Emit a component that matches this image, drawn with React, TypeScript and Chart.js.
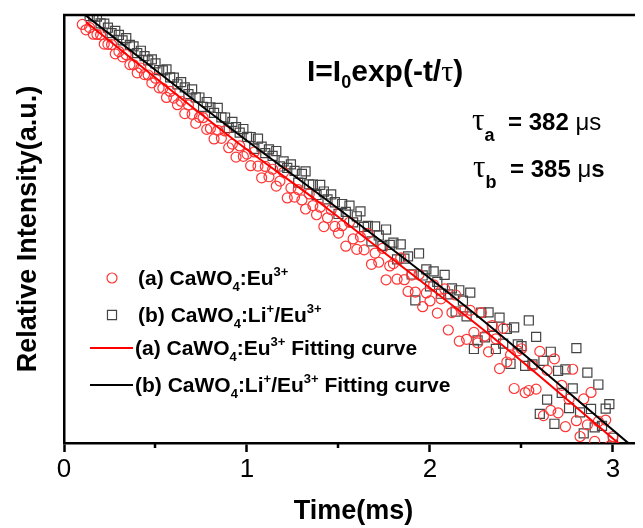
import { useEffect, useRef } from "react";
import { Chart, registerables } from "chart.js";

Chart.register(...registerables);

// Time axis (ms)
const timeMs = [
  0.10, 0.12, 0.14, 0.16, 0.18, 0.20, 0.22, 0.24, 0.26, 0.28,
  0.30, 0.32, 0.34, 0.36, 0.38, 0.40, 0.42, 0.44, 0.46, 0.48,
  0.50, 0.52, 0.54, 0.56, 0.58, 0.60, 0.62, 0.64, 0.66, 0.68,
  0.70, 0.72, 0.74, 0.76, 0.78, 0.80, 0.82, 0.84, 0.86, 0.88,
  0.90, 0.92, 0.94, 0.96, 0.98, 1.00, 1.02, 1.04, 1.06, 1.08,
  1.10, 1.12, 1.14, 1.16, 1.18, 1.20, 1.22, 1.24, 1.26, 1.28,
  1.30, 1.32, 1.34, 1.36, 1.38, 1.40, 1.42, 1.44, 1.46, 1.48,
  1.50, 1.52, 1.54, 1.56, 1.58, 1.60, 1.62, 1.64, 1.66, 1.68,
  1.70, 1.72, 1.74, 1.76, 1.78, 1.80, 1.82, 1.84, 1.86, 1.88,
  1.90, 1.92, 1.94, 1.96, 1.98, 2.00, 2.02, 2.04, 2.06, 2.08,
  2.10, 2.12, 2.14, 2.16, 2.18, 2.20, 2.22, 2.24, 2.26, 2.28,
  2.30, 2.32, 2.34, 2.36, 2.38, 2.40, 2.42, 2.44, 2.46, 2.48,
  2.50, 2.52, 2.54, 2.56, 2.58, 2.60, 2.62, 2.64, 2.66, 2.68,
  2.70, 2.72, 2.74, 2.76, 2.78, 2.80, 2.82, 2.84, 2.86, 2.88,
  2.90, 2.92, 2.94, 2.96, 2.98, 3.00,
];

// (a) CaWO4:Eu3+  — log10 of relative intensity
const intensityA = [
  -0.074, -0.116, -0.099, -0.151, -0.153, -0.155, -0.228, -0.230, -0.232, -0.305,
  -0.287, -0.329, -0.312, -0.389, -0.391, -0.454, -0.416, -0.468, -0.471, -0.533,
  -0.496, -0.572, -0.575, -0.647, -0.600, -0.652, -0.704, -0.677, -0.774, -0.706,
  -0.779, -0.851, -0.803, -0.806, -0.898, -0.891, -0.973, -0.905, -0.968, -0.910,
  -1.042, -1.014, -1.116, -1.028, -1.110, -1.092, -1.183, -1.075, -1.186, -1.278,
  -1.189, -1.270, -1.211, -1.343, -1.304, -1.235, -1.436, -1.358, -1.429, -1.371,
  -1.452, -1.523, -1.405, -1.496, -1.568, -1.509, -1.661, -1.592, -1.529, -1.660,
  -1.712, -1.654, -1.815, -1.627, -1.758, -1.840, -1.742, -1.844, -1.715, -1.957,
  -1.869, -1.941, -1.832, -2.079, -1.970, -1.952, -2.074, -1.906, -2.078, -2.170,
  -2.042, -2.175, -2.037, -2.290, -2.182, -2.245, -2.118, -2.340, -2.228, -2.150,
  -2.473, -2.336, -2.198, -2.561, -2.323, -2.546, -2.319, -2.492, -2.574, -2.337,
  -2.520, -2.644, -2.438, -2.542, -2.776, -2.460, -2.724, -2.668, -2.932, -2.636,
  -2.620, -2.964, -2.948, -2.753, -2.937, -2.641, -3.145, -2.790, -3.104, -2.699,
  -3.123, -2.907, -3.232, -3.016, -2.781, -3.185, -3.309, -3.014, -3.218, -2.963,
  -3.347, -3.191, -3.456, -3.180, -3.385, -3.309,
];

// (b) CaWO4:Li+/Eu3+ — log10 of relative intensity
const intensityB = [
  0.046, 0.044, -0.009, -0.011, -0.013, -0.065, -0.068, -0.100, -0.142, -0.125,
  -0.157, -0.199, -0.182, -0.234, -0.246, -0.299, -0.281, -0.323, -0.356, -0.348,
  -0.380, -0.432, -0.435, -0.427, -0.490, -0.492, -0.544, -0.527, -0.569, -0.621,
  -0.584, -0.646, -0.648, -0.721, -0.683, -0.726, -0.768, -0.730, -0.803, -0.805,
  -0.887, -0.839, -0.881, -0.923, -0.895, -0.957, -0.958, -1.050, -0.971, -1.033,
  -1.084, -1.055, -1.106, -1.068, -1.189, -1.150, -1.201, -1.173, -1.224, -1.316,
  -1.247, -1.228, -1.330, -1.331, -1.413, -1.334, -1.386, -1.447, -1.409, -1.470,
  -1.562, -1.484, -1.545, -1.497, -1.628, -1.580, -1.542, -1.664, -1.655, -1.777,
  -1.659, -1.731, -1.812, -1.684, -1.805, -1.787, -1.919, -1.801, -1.913, -1.895,
  -2.037, -2.240, -1.872, -2.045, -1.997, -2.130, -2.013, -2.095, -2.188, -2.040,
  -2.193, -2.146, -2.328, -2.161, -2.243, -2.366, -2.179, -2.622, -2.554, -2.337,
  -2.530, -2.334, -2.448, -2.622, -2.376, -2.580, -2.464, -2.738, -2.452, -2.586,
  -2.600, -2.754, -2.398, -2.743, -2.527, -3.131, -2.715, -3.020, -2.644, -3.209,
  -2.793, -2.967, -2.782, -3.086, -2.931, -2.615, -3.119, -3.284, -2.808, -3.093,
  -3.237, -2.901, -3.226, -3.090, -3.055, -3.319,
];

// Fitting curves
const fitTimeA = [0.12, 0.923, 1.399, 1.836, 2.273, 2.546, 3.027, 3.093];
const fitValuesA = [-0.055, -0.973, -1.476, -1.962, -2.449, -2.771, -3.359, -3.438];
const fitTimeB = [0.10, 0.973, 1.399, 1.863, 2.273, 2.574, 3.082, 3.148];
const fitValuesB = [0.017, -0.958, -1.413, -1.915, -2.378, -2.739, -3.359, -3.438];

const xMajorTicks = [0, 1, 2, 3];
const xMinorTicks = [0.5, 1.5, 2.5];

const SANS = '"Liberation Sans", Arial, sans-serif';
const SERIF = '"Liberation Serif", "Times New Roman", serif';

type Part = { text: string; font: string; dy?: number; x?: number };

function drawRich(ctx: CanvasRenderingContext2D, x: number, y: number, parts: Part[]) {
  let cx = x;
  for (const p of parts) {
    if (p.x !== undefined) cx = p.x;
    ctx.font = p.font;
    ctx.fillText(p.text, cx, y + (p.dy || 0));
    cx += ctx.measureText(p.text).width;
  }
}

export default function App() {
  const canvasRef = useRef<HTMLCanvasElement | null>(null);

  useEffect(() => {
    const canvas = canvasRef.current;
    if (!canvas) return;

    const B = `bold 21px ${SANS}`;
    const S = `bold 13px ${SANS}`;
    const sub = (t: string): Part => ({ text: t, font: S, dy: 6 });
    const sup = (t: string): Part => ({ text: t, font: S, dy: -9 });

    const legendRows = [
      { ds: 2, kind: "point", parts: [{ text: "(a) CaWO", font: B }, sub("4"), { text: ":Eu", font: B }, sup("3+")] },
      { ds: 3, kind: "point", parts: [{ text: "(b) CaWO", font: B }, sub("4"), { text: ":Li", font: B }, sup("+"), { text: "/Eu", font: B }, sup("3+")] },
      { ds: 1, kind: "line", parts: [{ text: "(a) CaWO", font: B }, sub("4"), { text: ":Eu", font: B }, sup("3+"), { text: " Fitting curve", font: B }] },
      { ds: 0, kind: "line", parts: [{ text: "(b) CaWO", font: B }, sub("4"), { text: ":Li", font: B }, sup("+"), { text: "/Eu", font: B }, sup("3+"), { text: " Fitting curve", font: B }] },
    ];

    const decorPlugin = {
      id: "decor",
      afterDraw(chart: any) {
        const { ctx, chartArea } = chart;
        const xs = chart.scales.x;
        ctx.save();
        // top frame line
        ctx.strokeStyle = "#000";
        ctx.lineWidth = 2.5;
        ctx.beginPath();
        ctx.moveTo(chartArea.left - 1, chartArea.top);
        ctx.lineTo(chartArea.right, chartArea.top);
        ctx.stroke();
        // minor ticks
        for (const v of xMinorTicks) {
          const px = Math.round(xs.getPixelForValue(v));
          ctx.beginPath();
          ctx.moveTo(px, chartArea.bottom);
          ctx.lineTo(px, chartArea.bottom + 5);
          ctx.stroke();
        }

        ctx.fillStyle = "#000";
        ctx.textBaseline = "alphabetic";
        // equation
        drawRich(ctx, 307, 81, [
          { text: "I=I", font: `bold 30px ${SANS}` },
          { text: "0", font: `bold 18px ${SANS}`, dy: 7 },
          { text: "exp(-t/", font: `bold 30px ${SANS}` },
          { text: "τ", font: `30px ${SERIF}` },
          { text: ")", font: `bold 30px ${SANS}` },
        ]);
        // lifetimes
        drawRich(ctx, 472, 130, [
          { text: "τ", font: `31px ${SERIF}` },
          { text: "a", font: `bold 18px ${SANS}`, dy: 11 },
          { text: "= 382 ", font: `bold 24px ${SANS}`, x: 508 },
          { text: "μs", font: `24px ${SANS}` },
        ]);
        drawRich(ctx, 473, 177, [
          { text: "τ", font: `31px ${SERIF}` },
          { text: "b", font: `bold 18px ${SANS}`, dy: 11 },
          { text: "= 385 ", font: `bold 24px ${SANS}`, x: 510 },
          { text: "μ", font: `24px ${SANS}` },
          { text: "s", font: `bold 24px ${SANS}` },
        ]);

        // legend
        const rowY = [278, 315, 348, 385];
        legendRows.forEach((row, i) => {
          const ds = chart.data.datasets[row.ds];
          const y = rowY[i];
          if (row.kind === "point") {
            ctx.strokeStyle = ds.pointBorderColor;
            ctx.lineWidth = ds.pointBorderWidth;
            ctx.beginPath();
            if (ds.pointStyle === "circle") {
              ctx.arc(112, y, ds.pointRadius, 0, Math.PI * 2);
            } else {
              const h = ds.pointRadius * Math.SQRT1_2;
              ctx.rect(112 - h, y - h, 2 * h, 2 * h);
            }
            ctx.stroke();
            ctx.fillStyle = "#000";
            drawRich(ctx, 138, y + 7, row.parts as Part[]);
          } else {
            ctx.strokeStyle = ds.borderColor;
            ctx.lineWidth = ds.borderWidth;
            ctx.beginPath();
            ctx.moveTo(90, y);
            ctx.lineTo(133, y);
            ctx.stroke();
            ctx.fillStyle = "#000";
            drawRich(ctx, 135, y + 7, row.parts as Part[]);
          }
        });
        ctx.restore();
      },
    };

    const chart = new Chart(canvas, {
      type: "scatter",
      data: {
        datasets: [
          {
            label: "(b) CaWO4:Li+/Eu3+ Fitting curve",
            type: "line",
            data: fitTimeB.map((t, i) => ({ x: t, y: fitValuesB[i] })),
            borderColor: "#000000",
            borderWidth: 2,
            pointRadius: 0,
            fill: false,
            cubicInterpolationMode: "monotone",
          },
          {
            label: "(a) CaWO4:Eu3+ Fitting curve",
            type: "line",
            data: fitTimeA.map((t, i) => ({ x: t, y: fitValuesA[i] })),
            borderColor: "#ff0000",
            borderWidth: 2,
            pointRadius: 0,
            fill: false,
            cubicInterpolationMode: "monotone",
          },
          {
            label: "(a) CaWO4:Eu3+",
            data: timeMs.map((t, i) => ({ x: t, y: intensityA[i] })),
            pointStyle: "circle",
            pointRadius: 5,
            pointBorderWidth: 1.2,
            pointBorderColor: "#ff3535",
            pointBackgroundColor: "rgba(0,0,0,0)",
          },
          {
            label: "(b) CaWO4:Li+/Eu3+",
            data: timeMs.map((t, i) => ({ x: t, y: intensityB[i] })),
            pointStyle: "rect",
            pointRadius: 6.4,
            pointBorderWidth: 1.2,
            pointBorderColor: "#444444",
            pointBackgroundColor: "rgba(0,0,0,0)",
          },
        ] as any,
      },
      options: {
        responsive: false,
        animation: false,
        events: [],
        devicePixelRatio: 1,
        layout: { autoPadding: false, padding: { top: 15, right: 0, left: 0, bottom: 0 } },
        plugins: {
          legend: { display: false },
          tooltip: { enabled: false },
        },
        scales: {
          x: {
            type: "linear",
            min: 0,
            max: 3.164,
            afterFit: (s: any) => {
              s.height = 85;
              s.paddingLeft = 0;
              s.paddingRight = 0;
            },
            border: { display: true, color: "#000", width: 2.5 },
            grid: {
              display: true,
              drawOnChartArea: false,
              drawTicks: true,
              tickLength: 9,
              tickWidth: 2.5,
              tickColor: "#000",
              color: "#000",
            },
            afterBuildTicks: (s: any) => {
              s.ticks = xMajorTicks.map((v) => ({ value: v }));
            },
            ticks: {
              stepSize: 1,
              includeBounds: false,
              autoSkip: false,
              maxRotation: 0,
              padding: 2,
              color: "#000",
              font: { family: SANS, size: 26 },
              callback: (v: any) => String(v),
            },
            title: {
              display: true,
              text: "Time(ms)",
              color: "#000",
              font: { family: SANS, size: 27, weight: "bold" },
              padding: { top: 0, bottom: 0 },
            },
          },
          y: {
            type: "linear",
            min: -3.36,
            max: 0,
            afterFit: (s: any) => {
              s.width = 64;
              s.paddingTop = 0;
              s.paddingBottom = 0;
            },
            border: { display: true, color: "#000", width: 2.5 },
            grid: { display: false, drawTicks: false },
            ticks: { display: false },
            title: {
              display: true,
              text: "Relative Intensity(a.u.)",
              color: "#000",
              font: { family: SANS, size: 27, weight: "bold" },
              padding: { top: 12, bottom: 0 },
            },
          },
        },
      } as any,
      plugins: [decorPlugin],
    });

    return () => chart.destroy();
  }, []);

  return (
    <div style={{ position: "relative", width: 643, height: 528, margin: "-8px 0 0 -8px", background: "#fff" }}>
      <canvas ref={canvasRef} width={643} height={528} style={{ display: "block", width: 643, height: 528 }} />
    </div>
  );
}
